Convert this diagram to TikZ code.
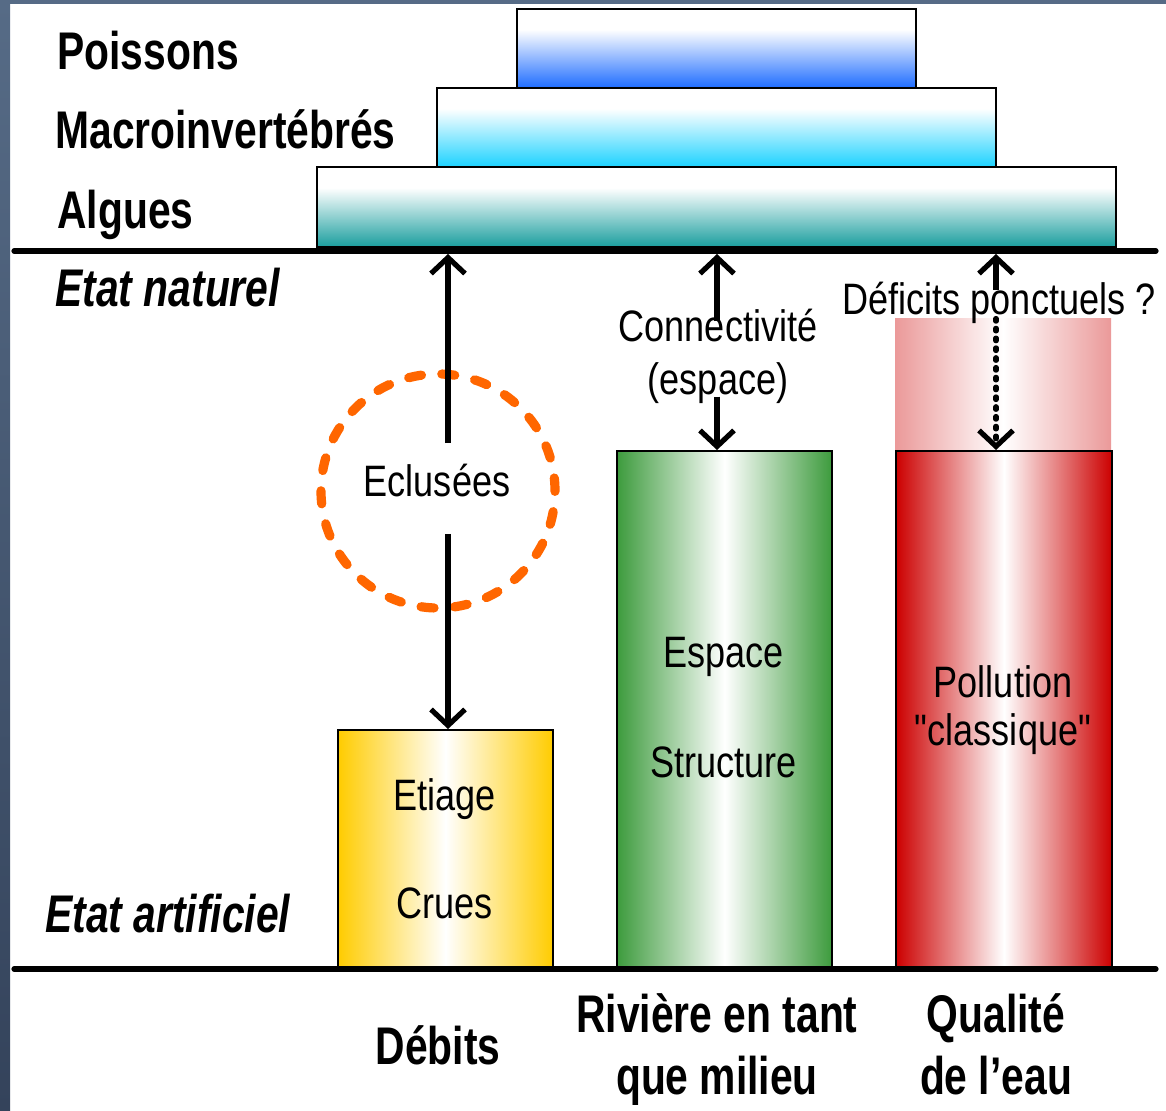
\documentclass[tikz,border=0pt]{standalone}
\usepackage{fontspec}
\setmainfont{Liberation Sans}
\newfontfamily\narrowtext[FakeStretch=0.82]{Liberation Sans}
\newfontfamily\narrowbold[FakeStretch=0.77]{Liberation Sans}
\usetikzlibrary{positioning, arrows.meta, calc}

\definecolor{frametop}{HTML}{566B86}
\definecolor{framebot}{HTML}{34435B}
\definecolor{fishblue}{HTML}{1E6CFF}
\definecolor{macrocyan}{HTML}{1CD2FF}
\definecolor{algteal}{HTML}{1A9E9E}
\definecolor{debitgold}{HTML}{FFCC00}
\definecolor{milieugreen}{HTML}{3D9B3D}
\definecolor{qualred}{HTML}{CC0000}
\definecolor{ringorange}{HTML}{FF6600}

\pgfdeclareverticalshading{fishshade}{100bp}{color(0bp)=(fishblue); color(25bp)=(fishblue); color(62bp)=(white); color(100bp)=(white)}
\pgfdeclareverticalshading{macroshade}{100bp}{color(0bp)=(macrocyan); color(25bp)=(macrocyan); color(62bp)=(white); color(100bp)=(white)}
\pgfdeclareverticalshading{algshade}{100bp}{color(0bp)=(algteal); color(25bp)=(algteal); color(62bp)=(white); color(100bp)=(white)}

\begin{document}
\begin{tikzpicture}[
    x=0.5pt, y=-0.5pt,
    layertext/.style={font=\narrowbold\bfseries\fontsize{26.5}{31}\selectfont, inner sep=0pt, anchor=base west},
    statetext/.style={font=\narrowbold\bfseries\itshape\fontsize{26.5}{31}\selectfont, inner sep=0pt, anchor=base west},
    axistext/.style={font=\narrowbold\bfseries\fontsize{26.5}{31}\selectfont, inner sep=0pt, anchor=base},
    bartext/.style={font=\narrowtext\fontsize{22}{26}\selectfont, inner sep=0pt, anchor=base},
    bar/.style={draw, line width=1pt, inner sep=0pt, anchor=south west, minimum width=107.5pt},
    level/.style={line width=2.6pt, line cap=round},
    link/.style={line width=2.6pt, -{Straight Barb[length=8pt, width=17pt]}},
    ring/.style={circle, draw=ringorange, line width=4.6pt, dash pattern=on 6.5pt off 10.2pt, line cap=round, minimum size=117pt, inner sep=0pt}
]

    % Frame
    \useasboundingbox (0,0) rectangle (1166,1111);
    \fill[top color=frametop, bottom color=framebot] (0,0) rectangle (10,1111);
    \fill[frametop] (0,0) rectangle (1166,4);

    % Pyramid of organisms
    \shadedraw[line width=0.8pt, shading=algshade] (317,167) rectangle (1116,247);
    \shadedraw[line width=0.8pt, shading=macroshade] (437,88) rectangle (996,167);
    \shadedraw[line width=0.8pt, shading=fishshade] (517,9) rectangle (916,88);

    \node[layertext] (poissons) at (57,70) {Poissons};
    \node[layertext] (macro) at (55,149) {Macroinvertébrés};
    \node[layertext] (algues) at (57,229) {Algues};

    % Natural and artificial levels
    \coordinate (natL) at (14,251);
    \coordinate (natR) at (1156,251);
    \coordinate (artL) at (14,969);
    \coordinate (artR) at (1156,969);
    \draw[level] (natL) -- (natR);

    \node[statetext] (naturel) at (55,307) {Etat naturel};
    \node[statetext] (artificiel) at (45,932) {Etat artificiel};

    % Bars
    \fill[left color=qualred!40!white, right color=qualred!40!white, middle color=white] (895,319) rectangle (1111,452);

    \node[bar, minimum height=119pt, left color=debitgold, right color=debitgold, middle color=white] (debitbar) at (337,969) {};
    \node[bar, minimum height=258.5pt, left color=milieugreen, right color=milieugreen, middle color=white] (milieubar) at (616,969) {};
    \node[bar, minimum height=258.5pt, minimum width=108pt, left color=qualred, right color=qualred, middle color=white] (qualbar) at (895,969) {};
    \draw[level] (artL) -- (artR);

    \node[bartext] (etiage) at (444.5,810) {Etiage};
    \node[bartext] (crues) at (444.5,918) {Crues};
    \node[bartext] (espace) at (723.5,668) {Espace};
    \node[bartext] (structure) at (723.5,777) {Structure};
    \node[bartext] (pollution) at (1003,697) {Pollution};
    \node[bartext] (classique) at (1003,745) {"classique"};

    % Pressures
    \node[ring] (eclusring) at (438,491) {};
    \node[bartext] (eclu) at (437,497) {Eclusées};
    \node[bartext] (conn) at (718,342) {Connectivité};
    \node[bartext] (espacep) at (718,395) {(espace)};
    \node[bartext] (defi) at (999,315) {Déficits ponctuels ?};

    \coordinate (natA) at (448,254);
    \coordinate (natB) at (717,254);
    \coordinate (natC) at (996,254);

    \draw[link] ($(eclu.north -| natA)+(0,-21)$) -- (natA);
    \draw[link] ($(eclu.south -| natA)+(0,36)$) -- (debitbar.north -| natA);

    \draw[link] ($(conn.north -| natB)+(0,12)$) -- (natB);
    \draw[link] ($(espacep.south -| natB)+(0,-8)$) -- (milieubar.north -| natB);

    \draw[link] ($(defi.north -| natC)+(0,8)$) -- (natC);
    \draw[link, dash pattern=on 1.3pt off 3.6pt, line cap=round] ($(defi.south -| natC)+(0,-6)$) -- (qualbar.north -| natC);

    % Axis labels
    \node[axistext] (debits) at (438,1064) {Débits};
    \node[axistext] (riviere) at (717,1032) {Rivière en tant};
    \node[axistext] (milieu) at (717,1094) {que milieu};
    \node[axistext] (qualite) at (996,1032) {Qualité};
    \node[axistext] (eau) at (996,1094) {de l’eau};

\end{tikzpicture}
\end{document}
